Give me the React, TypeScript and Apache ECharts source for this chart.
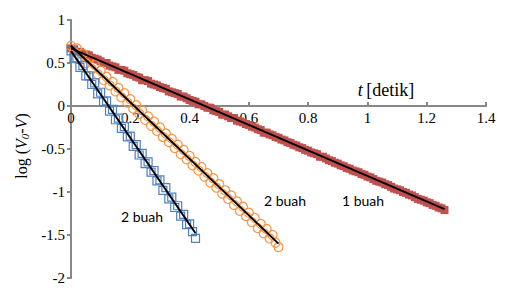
import React, { useEffect, useRef } from "react";
import * as echarts from "echarts";

// time step of each measured series (seconds)
const redStep = 0.01;
const orangeStep = 0.01;
const blueStep = 0.01;

// log(V0 - V) values, "1 buah"
const redValues = [
  0.67, 0.66, 0.63, 0.63, 0.6, 0.6, 0.59, 0.56, 0.55, 0.54,
  0.52, 0.5, 0.5, 0.47, 0.46, 0.45, 0.42, 0.42, 0.41, 0.38,
  0.37, 0.36, 0.34, 0.33, 0.3, 0.3, 0.29, 0.26, 0.25, 0.24,
  0.22, 0.21, 0.2, 0.17, 0.16, 0.15, 0.14, 0.11, 0.11, 0.09,
  0.07, 0.06, 0.05, 0.02, 0.02, 0.0, -0.02, -0.02, -0.05, -0.06,
  -0.07, -0.1, -0.1, -0.12, -0.14, -0.14, -0.17, -0.18, -0.19, -0.21,
  -0.22, -0.24, -0.25, -0.27, -0.28, -0.31, -0.31, -0.33, -0.34, -0.36,
  -0.37, -0.39, -0.4, -0.42, -0.43, -0.45, -0.46, -0.48, -0.49, -0.51,
  -0.52, -0.54, -0.55, -0.56, -0.59, -0.59, -0.61, -0.63, -0.64, -0.66,
  -0.67, -0.69, -0.7, -0.72, -0.73, -0.75, -0.76, -0.77, -0.79, -0.8,
  -0.82, -0.83, -0.85, -0.87, -0.88, -0.89, -0.91, -0.92, -0.94, -0.96,
  -0.97, -0.98, -1.0, -1.01, -1.03, -1.04, -1.06, -1.08, -1.09, -1.1,
  -1.12, -1.13, -1.15, -1.16, -1.18, -1.19, -1.21,
];

// "2 buah" (orange circles)
const orangeValues = [
  0.7, 0.63, 0.67, 0.56, 0.61, 0.5, 0.54, 0.43, 0.48, 0.37,
  0.41, 0.3, 0.34, 0.24, 0.28, 0.17, 0.21, 0.1, 0.15, 0.04,
  0.08, -0.03, 0.01, -0.09, -0.05, -0.16, -0.12, -0.23, -0.18, -0.29,
  -0.25, -0.36, -0.32, -0.42, -0.38, -0.49, -0.45, -0.56, -0.51, -0.62,
  -0.58, -0.69, -0.65, -0.75, -0.71, -0.82, -0.78, -0.89, -0.84, -0.95,
  -0.91, -1.02, -0.98, -1.08, -1.04, -1.15, -1.11, -1.22, -1.17, -1.28,
  -1.24, -1.35, -1.3, -1.42, -1.37, -1.48, -1.43, -1.54, -1.5, -1.59,
  -1.64,
];

// "2 buah" (blue squares)
const blueValues = [
  0.64, 0.56, 0.55, 0.45, 0.47, 0.35, 0.35, 0.25, 0.27, 0.14,
  0.16, 0.05, 0.06, -0.06, -0.04, -0.16, -0.14, -0.26, -0.24, -0.36,
  -0.35, -0.47, -0.45, -0.57, -0.55, -0.67, -0.65, -0.77, -0.75, -0.87,
  -0.86, -0.98, -0.95, -1.08, -1.06, -1.18, -1.16, -1.28, -1.26, -1.38,
  -1.37, -1.46, -1.54,
];

// linear fits (black lines)
const redFit = [[0, 0.67], [1.26, -1.2]];
const orangeFit = [[0, 0.7], [0.7, -1.6]];
const blueFit = [[0, 0.64], [0.42, -1.48]];

const xTicks = { min: 0, max: 1.4, interval: 0.2 };
const yTicks = { min: -2, max: 1, interval: 0.5 };

const seriesLabels = ["2 buah", "2 buah", "1 buah"];

const toPairs = (vals: number[], step: number) =>
  vals.map((v, i) => [+(i * step).toFixed(3), v]);

export default function App() {
  const ref = useRef<HTMLDivElement>(null);
  useEffect(() => {
    if (!ref.current) return;
    const chart = echarts.init(ref.current, undefined, { renderer: "svg" });
    const serif = "Liberation Serif";
    const sans = "Lato";
    const axisColor = "#878787";
    const top = 20;
    const bottom = 14;
    const plotH = 292 - top - bottom;
    // shift the x axis up to the y = 0 line
    const zeroOffset = -plotH * (0 - yTicks.min) / (yTicks.max - yTicks.min);
    const tickRich = { a: { fontFamily: serif, fontSize: 15, color: "#000" } };
    chart.setOption({
      animation: false,
      textStyle: { fontFamily: serif },
      grid: { left: 71, right: 23, top, bottom, containLabel: false },
      xAxis: {
        type: "value",
        min: xTicks.min,
        max: xTicks.max,
        interval: xTicks.interval,
        offset: zeroOffset,
        axisLine: { onZero: false, lineStyle: { color: axisColor, width: 2 } },
        axisTick: { show: true, inside: true, length: 4, lineStyle: { color: axisColor, width: 2 } },
        axisLabel: { formatter: "{a|{value}}", rich: tickRich, color: "#000", fontFamily: serif, fontSize: 15, margin: 4 },
        splitLine: { show: false },
      },
      yAxis: {
        type: "value",
        min: yTicks.min,
        max: yTicks.max,
        interval: yTicks.interval,
        axisLine: { show: true, onZero: false, lineStyle: { color: axisColor, width: 2 } },
        axisTick: { show: true, length: 4, lineStyle: { color: axisColor, width: 2 } },
        axisLabel: { formatter: "{a|{value}}", rich: tickRich, color: "#000", fontFamily: serif, fontSize: 15, margin: 6 },
        splitLine: { show: false },
      },
      series: [
        {
          type: "scatter",
          data: toPairs(redValues, redStep),
          symbol: "rect",
          symbolSize: 8,
          itemStyle: { color: "#C0504D", opacity: 1 },
          z: 2,
        },
        {
          type: "scatter",
          data: toPairs(orangeValues, orangeStep),
          symbol: "circle",
          symbolSize: 9,
          itemStyle: { color: "rgba(255,255,255,0)", borderColor: "#F79646", borderWidth: 1.2, opacity: 1 },
          z: 3,
        },
        {
          type: "scatter",
          data: toPairs(blueValues, blueStep),
          symbol: "rect",
          symbolSize: 8,
          itemStyle: { color: "rgba(255,255,255,0)", borderColor: "#4F81BD", borderWidth: 1.2, opacity: 1 },
          z: 4,
        },
        ...[redFit, orangeFit, blueFit].map((d) => ({
          type: "line",
          data: d,
          showSymbol: false,
          symbol: "none",
          lineStyle: { color: "#000", width: 2 },
          z: 5,
        })),
      ],
      graphic: [
        {
          type: "text",
          x: 386,
          y: 90,
          style: {
            text: "{i|t} {n|[detik]}",
            align: "center",
            verticalAlign: "middle",
            rich: {
              i: { fontFamily: serif, fontSize: 18, fontStyle: "italic", fill: "#000" },
              n: { fontFamily: serif, fontSize: 18, fill: "#000" },
            },
          },
        },
        {
          type: "text",
          x: 21,
          y: 146,
          rotation: Math.PI / 2,
          style: {
            text: "{n|log (}{i|V}{s|0}{n|-}{i|V}{n|)}",
            align: "center",
            verticalAlign: "middle",
            rich: {
              n: { fontFamily: serif, fontSize: 16, fill: "#000", lineHeight: 18 },
              i: { fontFamily: serif, fontSize: 16, fontStyle: "italic", fill: "#000", lineHeight: 18 },
              s: { fontFamily: serif, fontSize: 11, fontStyle: "italic", fill: "#000", verticalAlign: "bottom", lineHeight: 18 },
            },
          },
        },
        {
          type: "text",
          x: 142,
          y: 216,
          style: { text: seriesLabels[0], fontFamily: sans, fontSize: 14, fill: "#000", align: "center", verticalAlign: "middle" },
        },
        {
          type: "text",
          x: 285,
          y: 200,
          style: { text: seriesLabels[1], fontFamily: sans, fontSize: 14, fill: "#000", align: "center", verticalAlign: "middle" },
        },
        {
          type: "text",
          x: 363,
          y: 200,
          style: { text: seriesLabels[2], fontFamily: sans, fontSize: 14, fill: "#000", align: "center", verticalAlign: "middle" },
        },
      ],
    });
    return () => chart.dispose();
  }, []);
  return (
    <div
      ref={ref}
      style={{ position: "fixed", left: 0, top: 0, width: 509, height: 292, background: "#fff" }}
    />
  );
}
